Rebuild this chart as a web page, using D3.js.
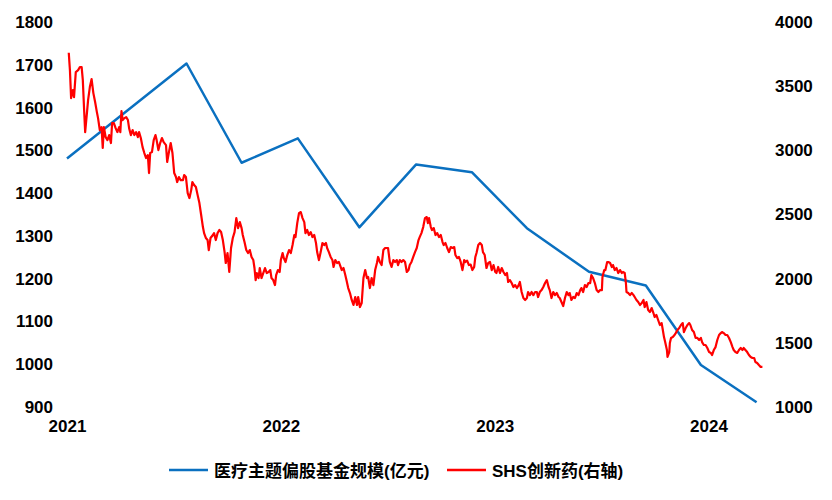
<!DOCTYPE html>
<html><head><meta charset="utf-8">
<script src="https://cdn.jsdelivr.net/npm/d3@7"></script>
<style>html,body{margin:0;padding:0;background:#fff;}svg{display:block;}</style>
</head><body><svg id="chart" width="832" height="500"></svg>
<script>
// ---- data ----
const yearTicks = ["2021", "2022", "2023", "2024"];
const leftTicks = [900, 1000, 1100, 1200, 1300, 1400, 1500, 1600, 1700, 1800];
const rightTicks = [1000, 1500, 2000, 2500, 3000, 3500, 4000];
const seriesNames = ["医疗主题偏股基金规模(亿元)", "SHS创新药(右轴)"];

const fundDates = ["2021-01-01","2021-07-24","2021-10-26","2022-01-30","2022-05-15","2022-08-20","2022-11-23","2023-02-25","2023-06-11","2023-09-16","2023-12-19","2024-03-23"];
const fundValues = [1481,1703,1471,1528,1320,1467,1449,1318,1216,1184,998,911];

const shsDates = [
"2021-01-04","2021-01-06","2021-01-08","2021-01-11","2021-01-13","2021-01-16","2021-01-20","2021-01-23","2021-01-26","2021-01-28","2021-01-30",
"2021-02-01","2021-02-04","2021-02-06","2021-02-09","2021-02-12","2021-02-15","2021-02-18","2021-02-21","2021-02-23","2021-02-26",
"2021-03-01","2021-03-03","2021-03-05","2021-03-08","2021-03-11","2021-03-14","2021-03-17","2021-03-19","2021-03-22","2021-03-25","2021-03-28","2021-03-31",
"2021-04-02","2021-04-04","2021-04-06","2021-04-09","2021-04-12","2021-04-15","2021-04-17","2021-04-20","2021-04-23","2021-04-26","2021-04-29",
"2021-05-02","2021-05-04","2021-05-07","2021-05-10","2021-05-13","2021-05-16","2021-05-19","2021-05-21","2021-05-23","2021-05-26","2021-05-29",
"2021-06-01","2021-06-03","2021-06-06","2021-06-09","2021-06-12","2021-06-15","2021-06-19","2021-06-21","2021-06-24","2021-06-27","2021-06-30",
"2021-07-03","2021-07-06","2021-07-08","2021-07-11","2021-07-14","2021-07-18","2021-07-20","2021-07-23","2021-07-26","2021-07-29",
"2021-08-01","2021-08-03","2021-08-06","2021-08-09","2021-08-12","2021-08-15","2021-08-18","2021-08-21","2021-08-23","2021-08-26","2021-08-29","2021-08-31",
"2021-09-03","2021-09-07","2021-09-09","2021-09-12","2021-09-15","2021-09-18","2021-09-21","2021-09-24","2021-09-27","2021-09-29",
"2021-10-02","2021-10-05","2021-10-08","2021-10-11","2021-10-14","2021-10-17","2021-10-20","2021-10-23","2021-10-26","2021-10-28","2021-10-31",
"2021-11-03","2021-11-06","2021-11-09","2021-11-12","2021-11-15","2021-11-17","2021-11-19","2021-11-21","2021-11-24","2021-11-26","2021-11-29",
"2021-12-02","2021-12-05","2021-12-08","2021-12-11","2021-12-14","2021-12-16","2021-12-19","2021-12-22","2021-12-24","2021-12-27","2021-12-30",
"2022-01-01","2022-01-04","2022-01-06","2022-01-09","2022-01-12","2022-01-15","2022-01-18","2022-01-21","2022-01-24","2022-01-26","2022-01-29",
"2022-02-01","2022-02-04","2022-02-07","2022-02-10","2022-02-12","2022-02-15","2022-02-18","2022-02-21","2022-02-24","2022-02-27",
"2022-03-02","2022-03-04","2022-03-07","2022-03-10","2022-03-13","2022-03-16","2022-03-19","2022-03-21","2022-03-24","2022-03-27","2022-03-30",
"2022-04-01","2022-04-04","2022-04-07","2022-04-10","2022-04-12","2022-04-15","2022-04-18","2022-04-21","2022-04-23","2022-04-26","2022-04-29",
"2022-05-02","2022-05-05","2022-05-08","2022-05-11","2022-05-13","2022-05-16","2022-05-19","2022-05-22","2022-05-25","2022-05-28","2022-05-30",
"2022-06-02","2022-06-05","2022-06-08","2022-06-11","2022-06-14","2022-06-16","2022-06-19","2022-06-22","2022-06-25","2022-06-28",
"2022-07-01","2022-07-03","2022-07-06","2022-07-09","2022-07-12","2022-07-15","2022-07-18","2022-07-20","2022-07-23","2022-07-26","2022-07-29",
"2022-08-01","2022-08-04","2022-08-07","2022-08-09","2022-08-12","2022-08-15","2022-08-18","2022-08-21","2022-08-24","2022-08-26","2022-08-29",
"2022-09-01","2022-09-04","2022-09-07","2022-09-09","2022-09-11","2022-09-14","2022-09-16","2022-09-19","2022-09-22","2022-09-25","2022-09-28",
"2022-10-01","2022-10-04","2022-10-06","2022-10-09","2022-10-12","2022-10-15","2022-10-18","2022-10-21","2022-10-24","2022-10-26","2022-10-29",
"2022-11-01","2022-11-04","2022-11-07","2022-11-10","2022-11-12","2022-11-15","2022-11-18","2022-11-21","2022-11-24","2022-11-27","2022-11-29",
"2022-12-01","2022-12-04","2022-12-07","2022-12-10","2022-12-12","2022-12-15","2022-12-18","2022-12-21","2022-12-24","2022-12-27","2022-12-30",
"2023-01-02","2023-01-04","2023-01-07","2023-01-10","2023-01-13","2023-01-16","2023-01-19","2023-01-22","2023-01-24","2023-01-27","2023-01-30",
"2023-02-02","2023-02-05","2023-02-08","2023-02-11","2023-02-13","2023-02-16","2023-02-19","2023-02-22","2023-02-25","2023-02-27",
"2023-03-02","2023-03-05","2023-03-08","2023-03-11","2023-03-14","2023-03-16","2023-03-19","2023-03-22","2023-03-25","2023-03-28","2023-03-31",
"2023-04-03","2023-04-05","2023-04-08","2023-04-11","2023-04-14","2023-04-17","2023-04-20","2023-04-22","2023-04-25","2023-04-28",
"2023-05-01","2023-05-04","2023-05-07","2023-05-09","2023-05-12","2023-05-15","2023-05-18","2023-05-21","2023-05-24","2023-05-27","2023-05-29",
"2023-06-01","2023-06-04","2023-06-07","2023-06-10","2023-06-13","2023-06-15","2023-06-18","2023-06-21","2023-06-24","2023-06-27","2023-06-30",
"2023-07-03","2023-07-04","2023-07-07","2023-07-09","2023-07-12","2023-07-14","2023-07-17","2023-07-20","2023-07-22","2023-07-25","2023-07-28","2023-07-31",
"2023-08-03","2023-08-06","2023-08-08","2023-08-11","2023-08-13","2023-08-14","2023-08-17","2023-08-20","2023-08-23","2023-08-26","2023-08-28","2023-08-31",
"2023-09-03","2023-09-06","2023-09-09","2023-09-12","2023-09-14","2023-09-17","2023-09-20","2023-09-23","2023-09-26","2023-09-29",
"2023-10-01","2023-10-04","2023-10-07","2023-10-10","2023-10-13","2023-10-15","2023-10-17","2023-10-19","2023-10-22","2023-10-23","2023-10-26","2023-10-27","2023-10-29",
"2023-11-01","2023-11-04","2023-11-06","2023-11-09","2023-11-12","2023-11-15","2023-11-18","2023-11-20","2023-11-23","2023-11-26","2023-11-29",
"2023-12-01","2023-12-04","2023-12-07","2023-12-10","2023-12-13","2023-12-16","2023-12-19","2023-12-21","2023-12-24","2023-12-27","2023-12-30",
"2024-01-02","2024-01-05","2024-01-07","2024-01-10","2024-01-13","2024-01-16","2024-01-19","2024-01-22","2024-01-24","2024-01-27","2024-01-30",
"2024-02-02","2024-02-05","2024-02-08","2024-02-11","2024-02-13","2024-02-16","2024-02-19","2024-02-22","2024-02-25","2024-02-28",
"2024-03-01","2024-03-04","2024-03-07","2024-03-10","2024-03-13","2024-03-16","2024-03-19","2024-03-21","2024-03-24","2024-03-27","2024-03-30","2024-04-02"
];
const shsValues = [
3760,3625,3407,3469,3415,3610,3625,3649,3649,3547,3337,
3142,3290,3392,3493,3555,3446,3376,3298,3251,3158,
3181,3018,3181,3103,3080,3119,3057,3212,3212,3173,3142,3181,
3142,3306,3236,3251,3259,3236,3173,3119,3158,3119,3142,
3103,3142,3096,3025,2979,2940,2963,2823,2979,2986,3080,
3119,3080,3002,3057,3096,3064,3041,2909,2986,3057,2979,
2823,2792,2753,2792,2768,2768,2807,2792,2667,2628,
2690,2753,2729,2714,2651,2589,2496,2402,2355,2317,2301,2223,
2317,2340,2355,2301,2355,2379,2363,2301,2207,2122,
2200,2052,2239,2317,2363,2472,2394,2441,2394,2340,2285,
2223,2200,2223,2169,2145,2083,1989,2044,2005,2083,2005,
2044,2083,2044,2052,2067,2005,1989,1950,2028,2067,2052,
2145,2200,2161,2130,2184,2223,2200,2262,2340,2324,2433,
2511,2519,2472,2441,2355,2379,2340,2363,2324,2340,
2278,2207,2145,2207,2278,2262,2278,2239,2207,2169,2145,
2091,2145,2122,2130,2106,2067,2083,2028,1989,1927,1888,
1834,1795,1857,1795,1857,1779,1810,2005,2067,2005,2013,
1927,2005,1950,2067,2122,2169,2130,2106,2223,2239,
2239,2239,2130,2091,2145,2130,2145,2106,2145,2130,2145,
2130,2052,2067,2106,2130,2169,2207,2239,2301,2324,2355,
2402,2472,2480,2433,2472,2402,2379,2394,2340,2355,2324,
2340,2285,2262,2278,2239,2207,2246,2239,2246,2184,2161,
2169,2130,2067,2145,2130,2140,2106,2110,2067,2091,2169,
2200,2262,2278,2262,2207,2184,2083,2122,2130,2067,2106,
2052,2044,2091,2044,2083,2052,2028,2044,1974,1989,1966,
1935,1950,1927,1950,1974,1896,1849,1834,1849,1896,
1872,1896,1872,1896,1896,1857,1896,1911,1935,1966,1989,
1935,1911,1849,1896,1872,1888,1857,1849,1818,1787,
1849,1896,1872,1888,1834,1857,1849,1888,1872,1911,1927,
1896,1950,1935,1966,1966,2028,2005,1966,1911,1896,1911,
1911,2013,2067,2067,2130,2130,2122,2091,2106,2067,2083,2044,
2067,2044,2052,2044,1966,1896,1888,1872,1888,1872,1857,1834,
1818,1795,1810,1834,1779,1818,1756,1740,1771,1732,
1701,1717,1678,1639,1654,1600,1545,1506,1444,1390,1428,1499,1538,
1545,1561,1576,1600,1615,1639,1654,1584,1615,1639,1654,
1639,1600,1584,1538,1538,1522,1538,1506,1483,1483,1460,
1428,1421,1405,1444,1467,1522,1561,1576,1584,1576,1561,
1561,1538,1506,1467,1444,1428,1421,1444,1460,1444,
1460,1444,1428,1405,1390,1382,1382,1351,1343,1327,1312,1312
];

// ---- chart ----
const parse = d3.timeParse("%Y-%m-%d");
const fund = fundDates.map((d, i) => ({date: parse(d), value: fundValues[i]}));
const shs = shsDates.map((d, i) => ({date: parse(d), value: shsValues[i]}));

const svg = d3.select("#chart");
const FONT = "'Liberation Sans', Arial, 'Noto Sans CJK SC', sans-serif";
const plot = {left: 67, right: 763, top: 22, bottom: 407};

const x = d3.scaleTime().domain([parse("2021-01-01"), parse("2024-04-03")]).range([plot.left, plot.right]);
const yL = d3.scaleLinear().domain([900, 1800]).range([plot.bottom, plot.top]);
const yR = d3.scaleLinear().domain([1000, 4000]).range([plot.bottom, plot.top]);

function styleAxis(g) {
  g.select(".domain").remove();
  g.attr("font-family", FONT).attr("font-size", 17).attr("font-weight", "bold");
  g.selectAll("text").attr("fill", "#000");
}

svg.append("g").attr("transform", `translate(${plot.left},0)`)
  .call(d3.axisLeft(yL).tickValues(leftTicks).tickSize(0).tickPadding(14).tickFormat(d3.format("d")))
  .call(styleAxis);
svg.append("g").attr("transform", `translate(${plot.right},0)`)
  .call(d3.axisRight(yR).tickValues(rightTicks).tickSize(0).tickPadding(12).tickFormat(d3.format("d")))
  .call(styleAxis);
svg.append("g").attr("transform", `translate(0,${plot.bottom})`)
  .call(d3.axisBottom(x).tickValues(yearTicks.map(y => parse(y + "-01-01"))).tickSize(0).tickPadding(13).tickFormat(d3.timeFormat("%Y")))
  .call(styleAxis);

const lineL = d3.line().x(d => x(d.date)).y(d => yL(d.value));
const lineR = d3.line().x(d => x(d.date)).y(d => yR(d.value));

svg.append("path").datum(fund).attr("d", lineL)
  .attr("fill", "none").attr("stroke", "#0a70c0").attr("stroke-width", 2.5).attr("stroke-linejoin", "round");
svg.append("path").datum(shs).attr("d", lineR)
  .attr("fill", "none").attr("stroke", "#ff0000").attr("stroke-width", 2.2).attr("stroke-linejoin", "round");

// legend
const legendItems = [
  {name: seriesNames[0], color: "#0a70c0", x: 169},
  {name: seriesNames[1], color: "#ff0000", x: 447}
];
const lg = svg.append("g");
legendItems.forEach(it => {
  lg.append("line").attr("x1", it.x).attr("x2", it.x + 39).attr("y1", 470).attr("y2", 470)
    .attr("stroke", it.color).attr("stroke-width", 2.5);
  lg.append("text").attr("x", it.x + 45).attr("y", 477)
    .attr("font-family", FONT).attr("font-size", 17).attr("font-weight", "bold").attr("fill", "#000")
    .text(it.name);
});
</script>
</body></html>
